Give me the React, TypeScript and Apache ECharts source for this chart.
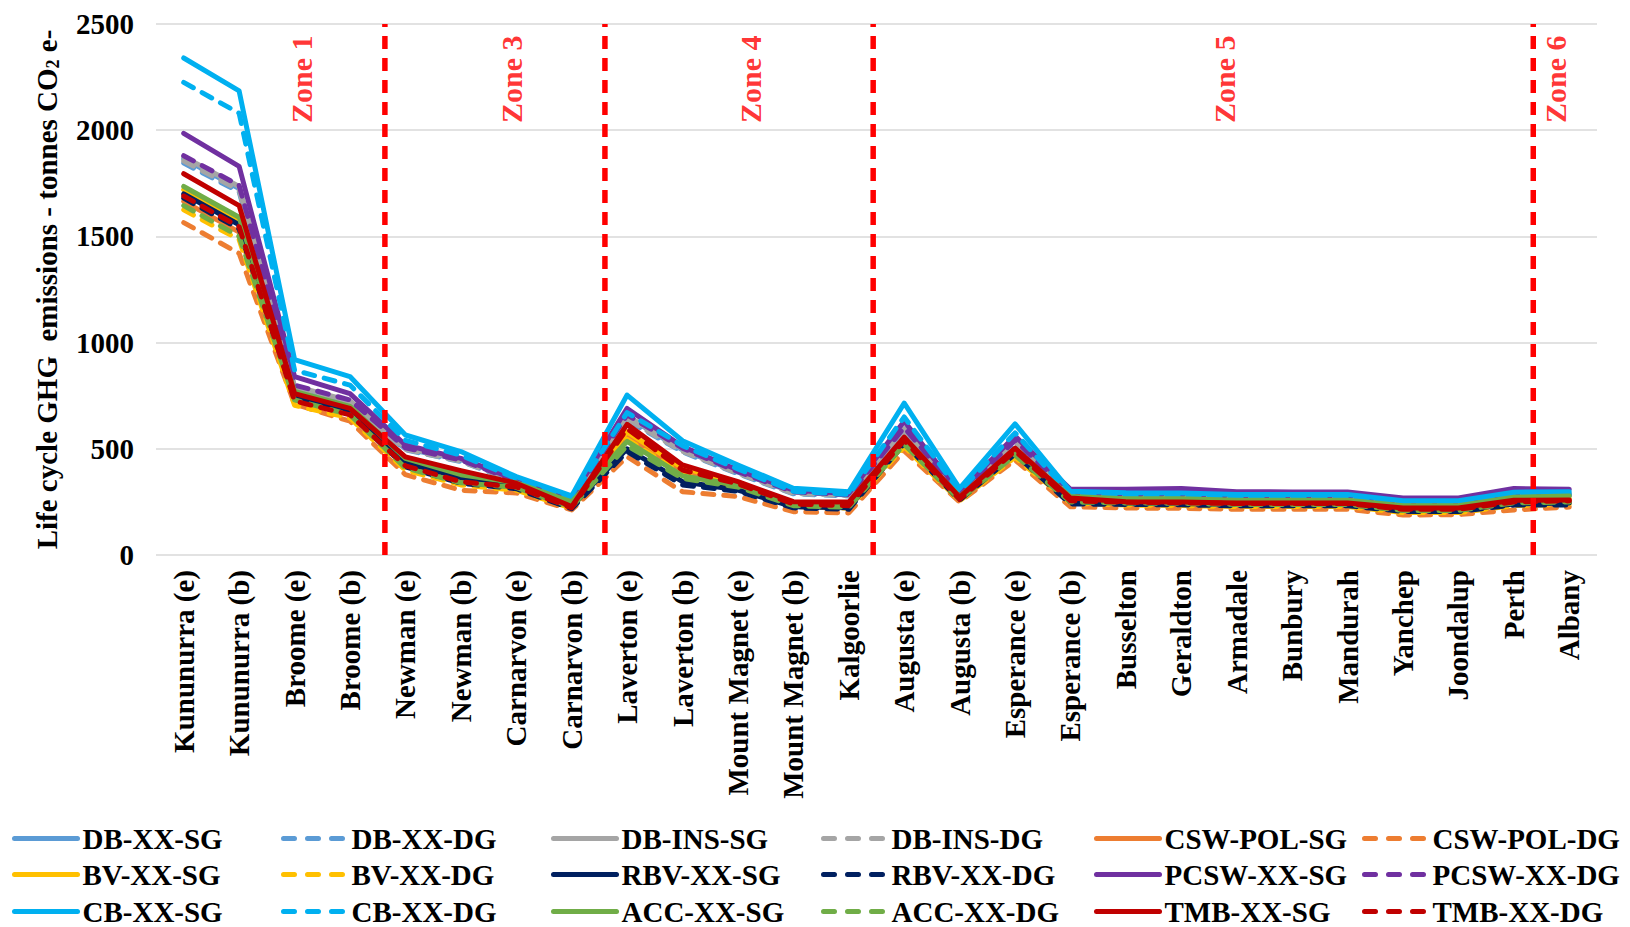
import React, { useEffect, useRef } from "react";
import * as echarts from "echarts";

const categories = [
  "Kununurra (e)", "Kununurra (b)", "Broome (e)", "Broome (b)", "Newman (e)", "Newman (b)",
  "Carnarvon (e)", "Carnarvon (b)", "Laverton (e)", "Laverton (b)", "Mount Magnet (e)", "Mount Magnet (b)",
  "Kalgoorlie", "Augusta (e)", "Augusta (b)", "Esperance (e)", "Esperance (b)", "Busselton", "Geraldton",
  "Armadale", "Bunbury", "Mandurah", "Yanchep", "Joondalup", "Perth", "Albany",
];

const dbXxSg = [1865, 1725, 790, 720, 500, 450, 352, 265, 650, 495, 390, 295, 283, 590, 288, 540, 288, 280, 280, 273, 273, 273, 246, 246, 286, 286];
const dbXxDg = [1845, 1710, 780, 710, 495, 440, 345, 258, 635, 485, 382, 288, 278, 580, 283, 530, 282, 274, 274, 268, 268, 268, 241, 241, 281, 281];
const dbInsSg = [1875, 1735, 795, 725, 505, 452, 355, 267, 655, 500, 395, 297, 285, 595, 290, 545, 290, 282, 282, 275, 275, 275, 248, 248, 288, 288];
const dbInsDg = [1855, 1718, 785, 715, 497, 442, 348, 260, 640, 488, 385, 290, 280, 585, 285, 535, 284, 276, 276, 270, 270, 270, 243, 243, 283, 283];
const cswPolSg = [1665, 1520, 730, 665, 425, 360, 315, 225, 560, 395, 325, 235, 225, 520, 260, 470, 255, 240, 240, 235, 235, 235, 210, 210, 245, 250];
const cswPolDg = [1565, 1420, 710, 630, 378, 305, 292, 212, 463, 298, 275, 204, 198, 490, 250, 447, 227, 221, 220, 215, 215, 215, 188, 190, 212, 226];
const bvXxSg = [1720, 1575, 745, 680, 440, 385, 330, 240, 580, 410, 340, 240, 235, 530, 265, 480, 260, 250, 250, 245, 245, 245, 220, 220, 260, 265];
const bvXxDg = [1625, 1485, 705, 645, 400, 330, 305, 220, 545, 380, 318, 228, 220, 510, 255, 460, 245, 235, 233, 228, 228, 228, 200, 200, 232, 240];
const rbvXxSg = [1700, 1555, 750, 675, 435, 365, 325, 228, 500, 345, 306, 227, 222, 540, 262, 485, 250, 245, 243, 238, 238, 238, 212, 212, 240, 245];
const rbvXxDg = [1680, 1535, 735, 665, 415, 338, 312, 218, 487, 330, 300, 222, 215, 525, 258, 475, 240, 238, 236, 232, 232, 232, 205, 205, 235, 235];
const pcswXxSg = [1985, 1830, 840, 760, 518, 455, 355, 270, 690, 510, 400, 305, 290, 630, 298, 560, 309, 309, 313, 298, 297, 297, 268, 268, 313, 310];
const pcswXxDg = [1880, 1740, 800, 730, 505, 447, 350, 262, 660, 503, 392, 298, 283, 600, 290, 540, 290, 285, 286, 278, 278, 278, 250, 250, 292, 292];
const cbXxSg = [2340, 2185, 920, 840, 565, 487, 369, 278, 753, 538, 424, 314, 298, 715, 314, 617, 300, 293, 292, 285, 285, 285, 255, 255, 296, 298];
const cbXxDg = [2225, 2080, 870, 800, 540, 470, 360, 268, 670, 515, 405, 300, 285, 650, 300, 575, 285, 278, 277, 270, 270, 270, 242, 242, 283, 285];
const accXxSg = [1735, 1590, 770, 700, 455, 378, 340, 250, 535, 372, 330, 245, 240, 545, 275, 495, 275, 265, 265, 258, 258, 258, 232, 232, 272, 278];
const accXxDg = [1645, 1500, 730, 660, 410, 340, 318, 226, 515, 360, 320, 232, 225, 520, 262, 470, 250, 245, 243, 238, 238, 238, 210, 210, 245, 250];
const tmbXxSg = [1795, 1645, 760, 690, 462, 397, 338, 228, 615, 424, 345, 251, 249, 555, 272, 503, 268, 251, 250, 245, 245, 245, 221, 221, 258, 259];
const tmbXxDg = [1690, 1545, 725, 660, 420, 345, 320, 222, 595, 400, 335, 240, 232, 540, 262, 490, 255, 248, 246, 242, 242, 242, 215, 215, 250, 255];

const seriesNames = [
  "DB-XX-SG", "DB-XX-DG", "DB-INS-SG", "DB-INS-DG", "CSW-POL-SG", "CSW-POL-DG",
  "BV-XX-SG", "BV-XX-DG", "RBV-XX-SG", "RBV-XX-DG", "PCSW-XX-SG", "PCSW-XX-DG",
  "CB-XX-SG", "CB-XX-DG", "ACC-XX-SG", "ACC-XX-DG", "TMB-XX-SG", "TMB-XX-DG",
];
const seriesValues = [
  dbXxSg, dbXxDg, dbInsSg, dbInsDg, cswPolSg, cswPolDg,
  bvXxSg, bvXxDg, rbvXxSg, rbvXxDg, pcswXxSg, pcswXxDg,
  cbXxSg, cbXxDg, accXxSg, accXxDg, tmbXxSg, tmbXxDg,
];
const seriesColors = [
  "#5B9BD5", "#5B9BD5", "#A5A5A5", "#A5A5A5", "#ED7D31", "#ED7D31",
  "#FFC000", "#FFC000", "#002060", "#002060", "#7030A0", "#7030A0",
  "#00B0F0", "#00B0F0", "#70AD47", "#70AD47", "#C00000", "#C00000",
];

const yTicks = [0, 500, 1000, 1500, 2000, 2500];

// zone boundaries and labels, in category-index units
const zoneBoundaries = [3.63, 7.6, 12.44, 24.35];
const zoneNames = ["Zone 1", "Zone 3", "Zone 4", "Zone 5", "Zone 6"];
const zoneLabelPos = [2.12, 5.92, 10.23, 18.77, 24.75];
const zoneLabelY = 2240;

// legend grid: 3 rows x 6 columns (same order as series)
const legendColLefts = [12, 281, 551, 821, 1094, 1362];
const legendRowTops = [824, 860, 897];

const FONT = "'Liberation Serif', 'Times New Roman', serif";

export default function App() {
  const ref = useRef<HTMLDivElement>(null);
  useEffect(() => {
    document.body.style.margin = "0";
    if (!ref.current) return;
    const chart = echarts.init(ref.current, null, { renderer: "svg" });

    const lineSeries = seriesNames.map((name, i) => ({
      name,
      type: "line",
      data: seriesValues[i],
      symbol: "none",
      showSymbol: false,
      lineStyle: {
        color: seriesColors[i],
        width: 5,
        type: name.endsWith("DG") ? [11, 10] : "solid",
        cap: "round",
        join: "round",
      },
      itemStyle: { color: seriesColors[i] },
      emphasis: { disabled: true },
    }));

    const zoneLineSeries = zoneBoundaries.map((x) => ({
      type: "line",
      xAxisIndex: 1,
      data: [[x, 0], [x, 2500]],
      symbol: "none",
      silent: true,
      z: 5,
      lineStyle: { color: "#FF0000", width: 5.5, type: [13, 9] },
    }));

    const zoneLabelSeries = {
      type: "scatter",
      xAxisIndex: 1,
      symbolSize: 0,
      silent: true,
      z: 6,
      data: zoneLabelPos.map((x, i) => ({ value: [x, zoneLabelY], name: zoneNames[i] })),
      label: {
        show: true,
        position: "inside",
        formatter: "{b}",
        rotate: 90,
        color: "#FF0000",
        fontFamily: FONT,
        fontWeight: "bold",
        fontSize: 30,
      },
    };

    const legends = seriesNames.map((name, i) => {
      const row = Math.floor(i / 6);
      const col = i % 6;
      const dashed = name.endsWith("DG");
      return {
        data: [name],
        left: legendColLefts[col],
        top: legendRowTops[row],
        padding: 0,
        itemWidth: 63,
        itemHeight: 28,
        selectedMode: false,
        itemStyle: { opacity: 0 },
        lineStyle: dashed
          ? { width: 5, type: [11, 13], cap: "round", color: seriesColors[i] }
          : { width: 5, cap: "round", color: seriesColors[i] },
        textStyle: {
          fontFamily: FONT,
          fontWeight: "bold",
          fontSize: 29,
          color: "#000",
        },
      };
    });

    chart.setOption({
      animation: false,
      backgroundColor: "#fff",
      grid: { left: 156, right: 33, top: 24, bottom: 372 },
      legend: legends,
      xAxis: [
        {
          type: "category",
          data: categories,
          boundaryGap: true,
          axisLine: { show: false },
          axisTick: { show: false },
          axisLabel: {
            interval: 0,
            rotate: 90,
            margin: 15,
            color: "#000",
            fontFamily: FONT,
            fontWeight: "bold",
            fontSize: 29,
          },
        },
        { type: "value", min: -0.5, max: 25.5, show: false },
      ],
      yAxis: {
        type: "value",
        min: yTicks[0],
        max: yTicks[yTicks.length - 1],
        interval: 500,
        axisLine: { show: false },
        axisTick: { show: false },
        splitLine: { lineStyle: { color: "#D9D9D9", width: 1.5 } },
        axisLabel: {
          margin: 22,
          color: "#000",
          fontFamily: FONT,
          fontWeight: "bold",
          fontSize: 29,
          formatter: (v: number) => String(v),
        },
        name: "{a|Life cycle GHG  emissions - tonnes CO}{s|2}{a| e-}",
        nameLocation: "middle",
        nameRotate: 90,
        nameGap: 92,
        nameTextStyle: {
          color: "#000",
          rich: {
            a: { fontFamily: FONT, fontWeight: "bold", fontSize: 29, color: "#000", lineHeight: 34 },
            s: { fontFamily: FONT, fontWeight: "bold", fontSize: 18, color: "#000", lineHeight: 34, padding: [12, 0, 0, 0] },
          },
        },
      },
      series: [...lineSeries, ...zoneLineSeries, zoneLabelSeries],
    });
    return () => chart.dispose();
  }, []);
  return <div ref={ref} style={{ width: 1630, height: 927 }} />;
}
